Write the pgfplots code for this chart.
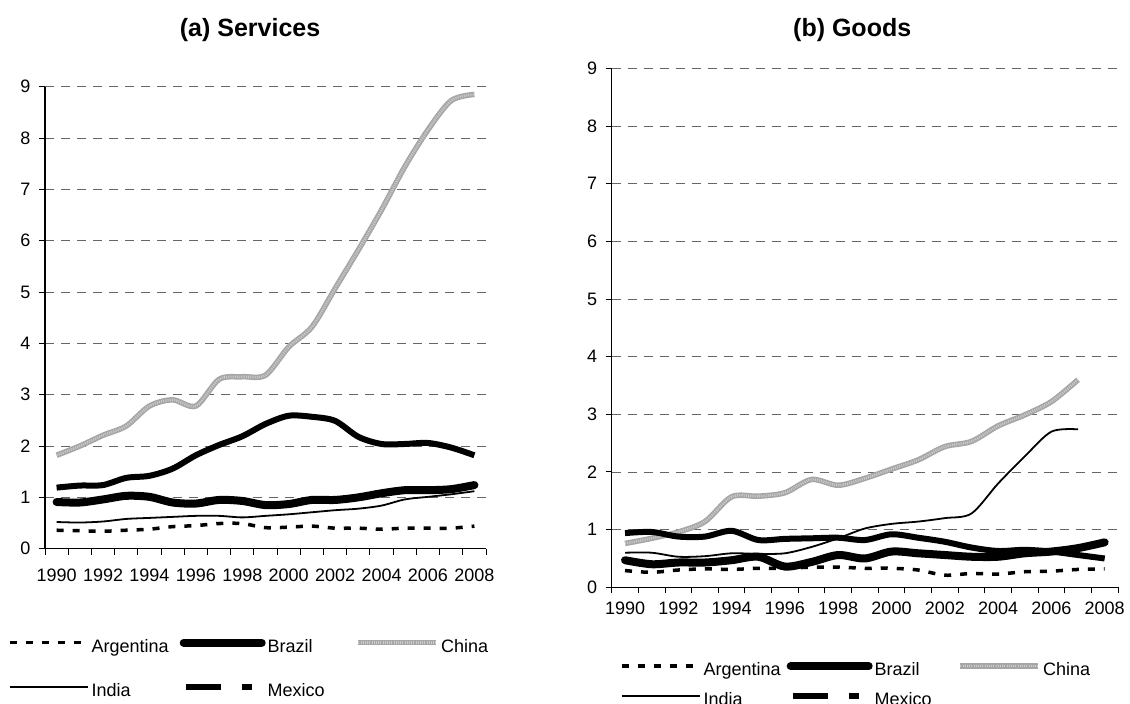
\documentclass[border=0pt]{standalone}
\usepackage{pgfplots}
\usepackage{pgfplotstable}
\pgfplotsset{compat=1.18}
\usepackage{fontspec}
\setmainfont{Liberation Sans}

\pgfplotstableread{
year Arg Bra Chi Ind Mex
1990 0.36 0.91 1.82 0.52 1.19
1991 0.35 0.90 2.00 0.51 1.23
1992 0.34 0.96 2.21 0.53 1.24
1993 0.36 1.03 2.39 0.58 1.38
1994 0.38 1.01 2.78 0.60 1.42
1995 0.43 0.90 2.90 0.62 1.56
1996 0.45 0.88 2.78 0.64 1.82
1997 0.49 0.95 3.30 0.64 2.02
1998 0.49 0.93 3.35 0.61 2.19
1999 0.41 0.85 3.38 0.64 2.43
2000 0.42 0.87 3.93 0.67 2.59
2001 0.44 0.95 4.32 0.71 2.57
2002 0.40 0.95 5.07 0.75 2.49
2003 0.40 1.00 5.82 0.78 2.18
2004 0.38 1.08 6.60 0.84 2.04
2005 0.40 1.14 7.44 0.96 2.04
2006 0.40 1.14 8.16 1.01 2.06
2007 0.40 1.16 8.73 1.06 1.97
2008 0.44 1.24 8.85 1.12 1.82
}\services

\pgfplotstableread{
year Arg Bra Chi Ind Mex
1990 0.29 0.47 0.76 0.60 0.94
1991 0.26 0.40 0.85 0.60 0.96
1992 0.30 0.43 0.96 0.53 0.88
1993 0.32 0.43 1.14 0.54 0.88
1994 0.31 0.47 1.57 0.59 0.98
1995 0.33 0.53 1.58 0.58 0.82
1996 0.33 0.36 1.64 0.59 0.84
1997 0.35 0.44 1.87 0.70 0.85
1998 0.35 0.56 1.77 0.85 0.86
1999 0.33 0.50 1.89 1.02 0.82
2000 0.33 0.62 2.05 1.10 0.92
2001 0.30 0.59 2.21 1.14 0.86
2002 0.21 0.56 2.44 1.20 0.79
2003 0.24 0.53 2.53 1.28 0.69
2004 0.23 0.53 2.80 1.80 0.63
2005 0.27 0.59 2.99 2.27 0.65
2006 0.28 0.62 3.22 2.70 0.62
2007 0.31 0.68 3.60 2.74 0.56
2008 0.32 0.78 nan nan 0.50
}\goods

\pgfplotsset{
  mybase/.style={
    scale only axis,
    axis x line=bottom, axis y line=left,
    axis line style={-, black, line width=1.2pt},
    ymin=0, ymax=9, ytick={0,1,...,9},
    extra y ticks={0,1,2,3,4,5,6,7,8,9},
    extra y tick labels={},
    extra y tick style={major tick length=6pt, grid=none},
    xmin=1989.5, xmax=2008.5,
    xtick={1990,1992,...,2008},
    xticklabels={1990,1992,1994,1996,1998,2000,2002,2004,2006,2008},
    minor xtick={1989.5,1990.5,...,2008.5},
    major tick length=0pt,
    minor tick length=6pt,
    tick align=outside,
    tick style={black, line width=1pt},
    ymajorgrids,
    major grid style={black!60, line width=0.9pt, dash pattern=on 9pt off 7pt},
    ticklabel style={font=\fontsize{18}{21}\selectfont},
    yticklabel style={xshift=-11pt},
    /pgf/number format/assume math mode=true,
    legend columns=3,
    legend cell align=left,
    legend style={draw=none, fill=none, anchor=north west,
      font=\fontsize{18}{21}\selectfont,
      nodes={inner xsep=2pt, inner ysep=0pt, text height=13pt, text depth=4pt},
      /tikz/every even column/.style={column sep=0pt},
      /tikz/every odd column/.style={column sep=0pt}},
    legend image code/.code={\draw[#1] (0pt,5pt) -- (78pt,5pt);},
  },
  argst/.style={black, line width=3.5pt, dash pattern=on 7pt off 9pt, smooth},
  brast/.style={black, line width=8pt, line cap=round, smooth},
  chist/.style={color=black!35, line width=5.5pt, smooth,
     postaction={draw=white!80!black, line width=2.4pt, dash pattern=on 1pt off 1.2pt}},
  indst/.style={black, line width=1.8pt, smooth},
  mexst/.style={black, line width=6pt, smooth,
     legend image code/.code={\draw[black, line width=6pt] (2pt,5pt) -- (37pt,5pt);
       \draw[black, line width=6pt] (58pt,5pt) -- (68pt,5pt);}},
}

\begin{document}
\begin{tikzpicture}
\path[use as bounding box] (0pt,0pt) rectangle (1130pt,-704pt);

\begin{axis}[mybase,
  at={(45pt,-548.7pt)}, anchor=south west,
  width=441pt, height=462pt,
  xticklabel style={yshift=-17pt},
  title={(a) Services},
  title style={at={(0.465,1.11)}, anchor=center, font=\bfseries\fontsize{25}{28}\selectfont},
  legend style={at={(-0.0907,-0.19)}},
  legend style={row sep=27pt},
]
\addplot[argst] table[x=year,y=Arg] {\services};
\addlegendentry{\makebox[86pt][l]{Argentina}}
\addplot[brast] table[x=year,y=Bra] {\services};
\addlegendentry{\makebox[86pt][l]{Brazil}}
\addplot[chist] table[x=year,y=Chi] {\services};
\addlegendentry{\makebox[86pt][l]{China}}
\addplot[indst] table[x=year,y=Ind] {\services};
\addlegendentry{\makebox[86pt][l]{India}}
\addplot[mexst] table[x=year,y=Mex] {\services};
\addlegendentry{\makebox[86pt][l]{Mexico}}
\end{axis}

\begin{axis}[mybase,
  at={(611.7pt,-587.3pt)}, anchor=south west,
  width=506.3pt, height=518.9pt,
  xticklabel style={yshift=-11pt},
  title={(b) Goods},
  title style={at={(0.475,1.063)}, anchor=center, font=\bfseries\fontsize{25}{28}\selectfont},
  legend style={at={(0.0104,-0.140)}},
  legend style={row sep=13pt},
]
\addplot[argst] table[x=year,y=Arg] {\goods};
\addlegendentry{\makebox[81pt][l]{Argentina}}
\addplot[brast] table[x=year,y=Bra] {\goods};
\addlegendentry{\makebox[81pt][l]{Brazil}}
\addplot[chist] table[x=year,y=Chi] {\goods};
\addlegendentry{\makebox[81pt][l]{China}}
\addplot[indst] table[x=year,y=Ind] {\goods};
\addlegendentry{\makebox[81pt][l]{India}}
\addplot[mexst] table[x=year,y=Mex] {\goods};
\addlegendentry{\makebox[81pt][l]{Mexico}}
\end{axis}
\end{tikzpicture}
\end{document}
